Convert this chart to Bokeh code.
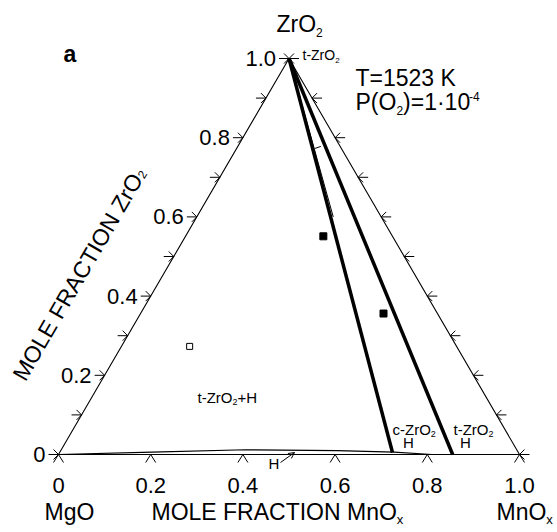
import math
from bokeh.plotting import figure
from bokeh.models import Range1d, Arrow, OpenHead
from bokeh.core.properties import value
from bokeh.embed import file_html
from bokeh.resources import INLINE

# ---------------- data (ternary: MnOx fraction, ZrO2 fraction) ----------------
left_ticks = [0.0, 0.1, 0.2, 0.3, 0.4, 0.5, 0.6, 0.7, 0.8, 0.9, 1.0]
right_ticks = [0.0, 0.1, 0.2, 0.3, 0.4, 0.5, 0.6, 0.7, 0.8, 0.9, 1.0]
left_label_vals = [0.0, 0.2, 0.4, 0.6, 0.8, 1.0]
left_labels = ["0", "0.2", "0.4", "0.6", "0.8", "1.0"]
bottom_tick_vals = [0.0, 0.2, 0.4, 0.6, 0.8, 1.0]
bottom_labels = ["0", "0.2", "0.4", "0.6", "0.8", "1.0"]

bound1_mnox = [0.0, 0.722]
bound1_zro2 = [1.0, 0.005]
bound2_mnox = [0.0, 0.855]
bound2_zro2 = [1.0, 0.0]
thin_mnox = [0.0, 0.296]
thin_zro2 = [1.0, 0.600]
stroke_mnox = [0.170, 0.180]
stroke_zro2 = [0.773, 0.778]
h_mnox = [0.0, 0.2, 0.4, 0.6, 0.725, 0.81]
h_zro2 = [0.0, 0.006, 0.012, 0.010, 0.006, 0.0]

open_mnox = [0.148]
open_zro2 = [0.273]
filled_mnox = [0.299, 0.527]
filled_zro2 = [0.551, 0.356]

# ---------------- layout ----------------
W, H = 557, 532
X0, Y0 = 58, 454          # MgO corner in pixels
SX, SY = 461.0, 396.0     # pixels per unit
FONT = "Liberation Sans"

def tx(b, c):
    return b + c / 2.0

def px(d):   # pixel offset -> data x offset
    return d / SX

def py(d):   # pixel offset (screen, down positive) -> data y offset
    return -d / SY

def dx(x):   # absolute pixel -> data
    return (x - X0) / SX

def dy(y):
    return (Y0 - y) / SY

CW = {' ': 278, '(': 333, ')': 333, '-': 333, '.': 278, '·': 278, '=': 584, '+': 584,
      'A': 667, 'C': 722, 'E': 667, 'F': 611, 'H': 722, 'I': 278, 'K': 667, 'L': 556,
      'M': 833, 'N': 722, 'O': 778, 'P': 667, 'R': 722, 'T': 611, 'Z': 611, 'a': 556,
      'c': 500, 'g': 556, 'n': 556, 'r': 333, 't': 278, 'x': 500}

def tw(s, size):
    return sum(CW.get(ch, 556) for ch in s) * size / 1000.0

p = figure(width=W, height=H, x_range=Range1d(-X0 / SX, (W - X0) / SX),
           y_range=Range1d(-(H - Y0) / SY, Y0 / SY), x_axis_type=None, y_axis_type=None,
           toolbar_location=None, output_backend="svg", min_border=0, title=None)
p.outline_line_color = None
p.background_fill_color = "white"
p.border_fill_color = "white"

def T(x, y, s, size, align="left", angle=0.0, style="normal", fix=True):
    # y is the intended baseline; the svg text is drawn about 0.36 em lower
    if fix:
        y = y + 0.36 * size / SY
    p.text(x=[x], y=[y], text=[s], text_font=value(FONT), text_font_size=f"{size}px",
           text_align=align, text_baseline="alphabetic", angle=angle, text_font_style=style,
           text_color="black")

# triangle
p.line([tx(0, 0), tx(0, 1), tx(1, 0), tx(0, 0)], [0, 1, 0, 0], line_color="black", line_width=1.1)

# ticks
x0s, y0s, x1s, y1s = [], [], [], []
for c in left_ticks:
    ax, ay = tx(0, c), c
    x0s += [ax - px(10), ax, ax]
    y0s += [ay, ay, ay]
    x1s += [ax, ax - px(5), ax - px(5)]
    y1s += [ay, ay + py(-5), ay + py(5)]
for c in right_ticks:
    ax, ay = tx(1 - c, c), c
    x0s += [ax, ax, ax]
    y0s += [ay, ay, ay]
    x1s += [ax + px(10), ax + px(5), ax + px(5)]
    y1s += [ay, ay + py(-5), ay + py(5)]
for b in bottom_tick_vals:
    ax, ay = tx(b, 0), 0.0
    x0s += [ax, ax]
    y0s += [ay, ay]
    x1s += [ax - px(5), ax + px(5)]
    y1s += [ay + py(8), ay + py(8)]
p.segment(x0s, y0s, x1s, y1s, line_color="black", line_width=1)

# phase boundaries
p.line([tx(b, c) for b, c in zip(h_mnox, h_zro2)], h_zro2, line_color="black", line_width=1.2)
p.line([tx(b, c) for b, c in zip(thin_mnox, thin_zro2)], thin_zro2, line_color="black", line_width=1)
p.line([tx(b, c) for b, c in zip(stroke_mnox, stroke_zro2)], stroke_zro2, line_color="black", line_width=1)
p.line([tx(b, c) for b, c in zip(bound1_mnox, bound1_zro2)], bound1_zro2, line_color="black", line_width=3.5)
p.line([tx(b, c) for b, c in zip(bound2_mnox, bound2_zro2)], bound2_zro2, line_color="black", line_width=3.5)

# points
p.scatter([tx(b, c) for b, c in zip(open_mnox, open_zro2)], open_zro2, marker="square", size=6,
          fill_color="white", line_color="black", line_width=1)
p.scatter([tx(b, c) for b, c in zip(filled_mnox, filled_zro2)], filled_zro2, marker="square", size=7,
          fill_color="black", line_color="black")

# tick labels
LS = 22
for c, lab in zip(left_label_vals, left_labels):
    T(tx(0, c) - px(13), c + py(0.36 * LS), lab, LS, align="right")
for b, lab in zip(bottom_tick_vals, bottom_labels):
    T(tx(b, 0), py(39), lab, LS, align="center")

# titles
BS = 23
T(dx(63), dy(62), "a", BS, style="bold")
T(dx(276), dy(32), "ZrO", BS)
T(dx(276) + px(tw("ZrO", BS)), dy(36), "2", 12)

T(dx(355), dy(86), "T=1523 K", BS)
xp = dx(355)
T(xp, dy(110), "P(O", BS)
xp += px(tw("P(O", BS))
T(xp, dy(114), "2", 12)
xp += px(tw("2", 12))
T(xp, dy(110), ")=1·10", BS)
xp += px(tw(")=1·10", BS))
T(xp, dy(100), "-4", 12)

# bottom titles
T(dx(44), dy(520), "MgO", BS)
T(dx(151), dy(520), "MOLE FRACTION MnO", BS)
T(dx(151) + px(tw("MOLE FRACTION MnO", BS)), dy(524), "x", 13)
T(dx(496), dy(520), "MnO", BS)
T(dx(496) + px(tw("MnO", BS)), dy(524), "x", 13)

# rotated left title
ang = math.atan2(SY, SX / 2.0)
sx0, sy0 = 18, 378
T(dx(sx0), dy(sy0), "MOLE FRACTION ZrO", BS, angle=ang, fix=False)
L = tw("MOLE FRACTION ZrO", BS)
ex = sx0 + L * math.cos(ang) + 4 * math.sin(ang)
ey = sy0 - L * math.sin(ang) + 4 * math.cos(ang)
T(dx(ex), dy(ey), "2", 12, angle=ang, fix=False)

# region labels
SS = 15
T(dx(302), dy(60), "t-ZrO", 14)
T(dx(302) + px(tw("t-ZrO", 14)), dy(63), "2", 8)

T(dx(197), dy(402), "t-ZrO", SS)
T(dx(197) + px(tw("t-ZrO", SS)), dy(405), "2", 9)
T(dx(197) + px(tw("t-ZrO", SS) + tw("2", 9)), dy(402), "+H", SS)

T(dx(392), dy(434), "c-ZrO", SS)
T(dx(392) + px(tw("c-ZrO", SS)), dy(437), "2", 9)
T(dx(408), dy(447), "H", SS, align="center")

T(dx(453), dy(434), "t-ZrO", SS)
T(dx(453) + px(tw("t-ZrO", SS)), dy(437), "2", 9)
T(dx(465), dy(447), "H", SS, align="center")

T(dx(268), dy(468), "H", SS)
p.add_layout(Arrow(end=OpenHead(size=6, line_width=1, line_color="black"),
                   x_start=dx(280), y_start=dy(462), x_end=dx(294), y_end=dy(452),
                   line_color="black", line_width=1))

open("out.html", "w").write(file_html(p, INLINE))
